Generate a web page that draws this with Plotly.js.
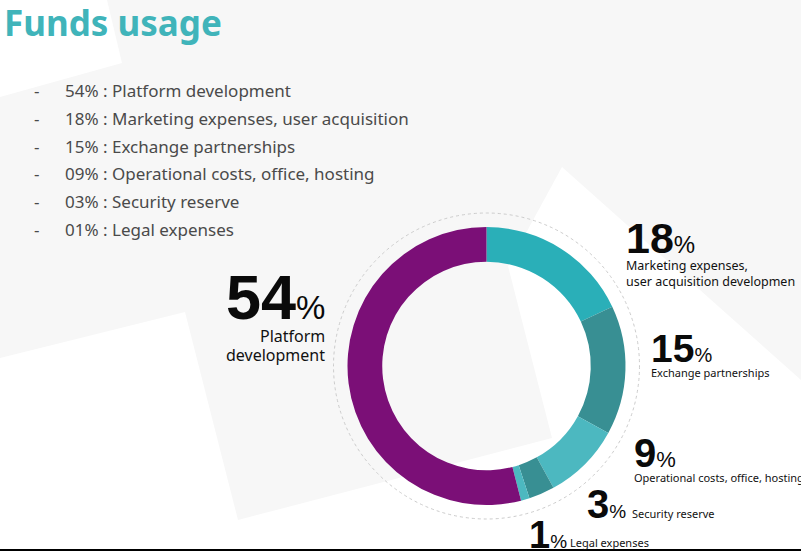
<!DOCTYPE html>
<html>
<head>
<meta charset="utf-8">
<script src="https://cdn.plot.ly/plotly-3.0.1.min.js"></script>
<style>
  html, body { margin: 0; padding: 0; background: #f7f7f7; }
  #chart { width: 801px; height: 551px; }
</style>
</head>
<body>
<div id="chart"></div>
<script>
// ---- data ----
const sliceLabels = ['Marketing expenses, user acquisition development', 'Exchange partnerships',
  'Operational costs, office, hosting', 'Security reserve', 'Legal expenses', 'Platform development'];
const sliceValues = [18, 15, 9, 3, 1, 54];
const sliceColors = ['#2aafb8', '#388f93', '#4cb8c0', '#388f93', '#4cb8c0', '#7b0f77'];

const listPercents = ['54%', '18%', '15%', '09%', '03%', '01%'];
const listLabels = ['Platform development', 'Marketing expenses, user acquisition', 'Exchange partnerships',
  'Operational costs, office, hosting', 'Security reserve', 'Legal expenses'];

const calloutValues = [54, 18, 15, 9, 3, 1];
const calloutLines = [
  ['Platform', 'development'],
  ['Marketing expenses,', 'user acquisition developmen'],
  ['Exchange partnerships'],
  ['Operational costs, office, hosting'],
  ['Security reserve'],
  ['Legal expenses']
];

const titleText = 'Funds usage';
const nextTitleText = 'Token allocation';

// ---- layout helpers ----
const W = 801, H = 551;
const fx = x => x / W;
const fy = y => 1 - y / H;

const cx = 486.5, cy = 366, R = 139;

const numFont = 'Liberation Sans, Arial, sans-serif';
const txtFont = 'Noto Sans, Open Sans, sans-serif';

const annotations = [];

// title
annotations.push({
  xref: 'paper', yref: 'paper', x: fx(2), y: fy(23), xanchor: 'left', yanchor: 'middle',
  text: '<b>' + titleText + '</b>', showarrow: false,
  font: { family: txtFont, size: 35, color: '#40b4ba' }
});
// next slide title, mostly cut off at the bottom edge
annotations.push({
  xref: 'paper', yref: 'paper', x: fx(2), y: fy(539), xanchor: 'left', yanchor: 'top',
  text: nextTitleText, showarrow: false,
  font: { family: txtFont, size: 38, color: '#3fb3ba' }
});

// list
listPercents.forEach((p, i) => {
  const yc = 90.5 + i * 27.8;
  annotations.push({
    xref: 'paper', yref: 'paper', x: fx(32), y: fy(yc), xanchor: 'left', yanchor: 'middle',
    text: '-', showarrow: false, font: { family: txtFont, size: 17, color: '#4a4a4a' }
  });
  annotations.push({
    xref: 'paper', yref: 'paper', x: fx(63), y: fy(yc), xanchor: 'left', yanchor: 'middle',
    text: p + ' : ' + listLabels[i], showarrow: false,
    font: { family: txtFont, size: 17, color: '#4a4a4a' }
  });
});

// callout placement
const calloutPos = [
  { x: 327, anchor: 'right', ny: 297, ns: 63, ps: 33, ly: 336, lg: 19, ls: 16 },
  { x: 624, anchor: 'left', ny: 238, ns: 43, ps: 24, ly: 265, lg: 16, ls: 12.5 },
  { x: 649, anchor: 'left', ny: 348, ns: 39, ps: 20, ly: 372, lg: 15, ls: 11 },
  { x: 632, anchor: 'left', ny: 453, ns: 40, ps: 22, ly: 477, lg: 15, ls: 11 },
  { x: 585, anchor: 'left', ny: 504, ns: 40, ps: 19, ly: 513, lg: 15, ls: 11, inline: 630 },
  { x: 527, anchor: 'left', ny: 535, ns: 38, ps: 19, ly: 542, lg: 15, ls: 11, inline: 568 }
];

calloutValues.forEach((v, i) => {
  const p = calloutPos[i];
  annotations.push({
    xref: 'paper', yref: 'paper', x: fx(p.x), y: fy(p.ny), xanchor: p.anchor, yanchor: 'middle',
    text: '<b>' + v + '</b><span style="font-size:' + p.ps + 'px">%</span>', showarrow: false,
    font: { family: numFont, size: p.ns, color: '#0a0a0a' }
  });
  calloutLines[i].forEach((line, j) => {
    annotations.push({
      xref: 'paper', yref: 'paper', x: fx(p.inline || p.x), y: fy(p.ly + j * p.lg),
      xanchor: p.inline ? 'left' : p.anchor, yanchor: 'middle',
      text: line, showarrow: false,
      font: { family: txtFont, size: p.ls, color: '#111111' }
    });
  });
});

// background shapes
const px = (x, y) => fx(x) + ',' + fy(y);
const shapes = [
  { type: 'path', xref: 'paper', yref: 'paper', layer: 'below', line: { width: 0 }, fillcolor: '#ffffff',
    path: 'M' + px(0, 0) + 'L' + px(107, 0) + 'L' + px(122, 63) + 'L' + px(0, 97) + 'Z' },
  { type: 'path', xref: 'paper', yref: 'paper', layer: 'below', line: { width: 0 }, fillcolor: '#ffffff',
    path: 'M' + px(0, 358) + 'L' + px(185, 312) + 'L' + px(238, 520) + 'L' + px(552, 438) +
      'L' + px(508, 266) + 'L' + px(562, 167) + 'L' + px(801, 380) + 'L' + px(801, 551) +
      'L' + px(0, 551) + 'Z' },
  { type: 'circle', xref: 'paper', yref: 'paper', layer: 'below',
    x0: fx(cx - 153), x1: fx(cx + 153), y0: fy(cy + 153), y1: fy(cy - 153),
    line: { color: '#cccccc', width: 1, dash: 'dot' }, fillcolor: 'rgba(0,0,0,0)' },
  { type: 'rect', xref: 'paper', yref: 'paper', layer: 'above',
    x0: 0, x1: 1, y0: 0, y1: 2 / H, line: { width: 0 }, fillcolor: '#000000' }
];

const data = [{
  type: 'pie',
  labels: sliceLabels,
  values: sliceValues,
  marker: { colors: sliceColors, line: { width: 0 } },
  hole: 0.75,
  sort: false,
  direction: 'clockwise',
  rotation: 0,
  textinfo: 'none',
  hoverinfo: 'none',
  showlegend: false,
  domain: { x: [fx(cx - R), fx(cx + R)], y: [fy(cy + R), fy(cy - R)] }
}];

const layout = {
  width: W, height: H,
  margin: { l: 0, r: 0, t: 0, b: 0 },
  paper_bgcolor: '#f7f7f7',
  plot_bgcolor: 'rgba(0,0,0,0)',
  showlegend: false,
  annotations: annotations,
  shapes: shapes
};

Plotly.newPlot('chart', data, layout, { displayModeBar: false, staticPlot: true });
</script>
</body>
</html>
